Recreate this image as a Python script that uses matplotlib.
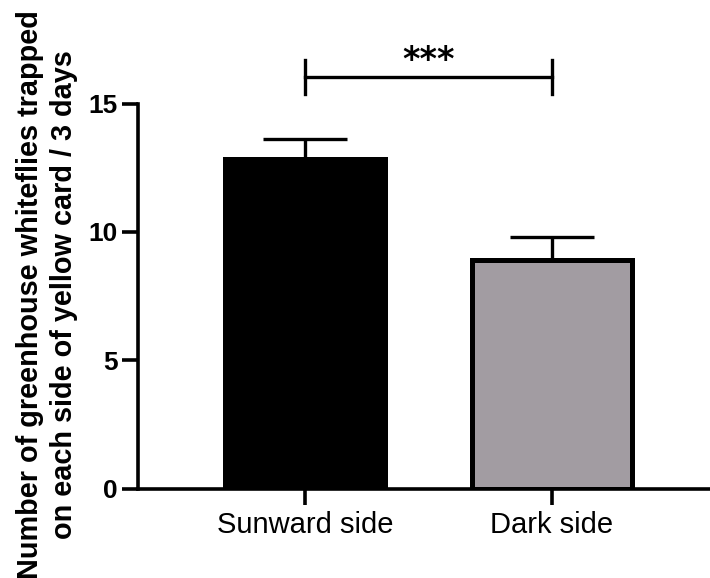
import matplotlib
matplotlib.use('Agg')
import matplotlib.pyplot as plt

plt.rcParams['font.family'] = ['Liberation Sans', 'DejaVu Sans']

# data
categories = ['Sunward side', 'Dark side']
means = [12.85, 8.92]
sem = [0.75, 0.86]
bar_colors = ['#000000', '#a29ca2']
y_ticks = [0, 5, 10, 15]
sig_label = '***'

fig = plt.figure(figsize=(7.10, 5.78), dpi=100)
ax = fig.add_axes([138 / 710, (578 - 488.5) / 578, 1 - 138 / 710, 385 / 578])

x = range(len(categories))
ax.bar(x, means, width=0.65, color=bar_colors, edgecolor='black', linewidth=3.6, zorder=2)
ax.errorbar(x, means, yerr=[[0, 0], sem], fmt='none', ecolor='black',
            elinewidth=2.4, capsize=30, capthick=2.4, zorder=1)

ax.set_xlim(-0.676, 1.64)
ax.set_ylim(0, 15)
ax.set_yticks(y_ticks)
ax.set_xticks(list(x))
ax.set_xticklabels(categories, fontsize=21)
for lab in ax.get_yticklabels():
    lab.set_fontweight('bold')
    lab.set_fontsize(19)

for side in ['top', 'right']:
    ax.spines[side].set_visible(False)
for side in ['left', 'bottom']:
    ax.spines[side].set_linewidth(2.6)
ax.tick_params(axis='both', width=2.6, length=11.5, pad=3)
ax.tick_params(axis='x', pad=5)

# significance bracket
y_sig = 16.04
ax.plot([0, 1], [y_sig, y_sig], color='black', lw=2.4, clip_on=False)
for xi in [0, 1]:
    ax.plot([xi, xi], [15.37, 16.69], color='black', lw=2.4, clip_on=False)
ax.text(0.5, 16.3, sig_label, ha='center', va='baseline', fontsize=24,
        fontweight='bold', family='DejaVu Sans', clip_on=False)

fig.text(47 / 710, (578 - 295) / 578,
         'Number of greenhouse whiteflies trapped\non each side of yellow card / 3 days',
         rotation=90, ha='center', va='center', multialignment='center',
         linespacing=1.3, fontsize=20.8, fontweight='bold')

fig.savefig('out.png', dpi=100)
